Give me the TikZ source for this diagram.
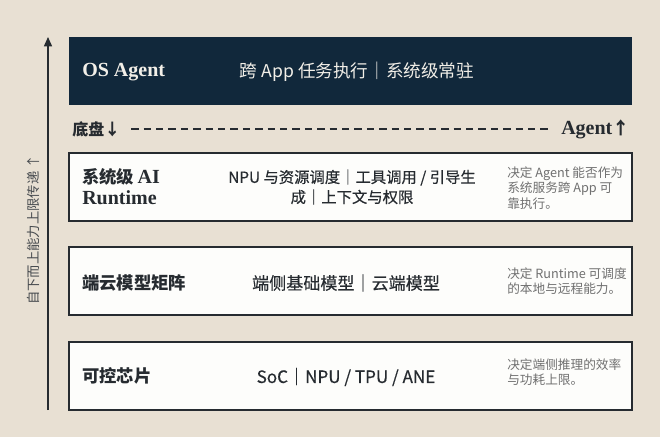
\documentclass[tikz,border=0pt]{standalone}
\usepackage{fontspec}
\setmainfont{Liberation Serif}
\newfontfamily\cjk{Noto Sans CJK SC}
\newfontfamily\cjkmid{Noto Sans CJK SC}[FakeBold=0.4]
\usetikzlibrary{arrows.meta}
\definecolor{bg}{HTML}{E8E0D3}
\definecolor{navy}{HTML}{11283B}
\definecolor{ink}{HTML}{262B30}
\definecolor{note}{HTML}{707070}
\definecolor{boxfill}{HTML}{FDFDFB}
\definecolor{toptext}{HTML}{F2EFE8}
\begin{document}
\begin{tikzpicture}[x=0.75pt,y=-0.75pt,
  layerbox/.style={draw=ink,line width=1.5pt,fill=boxfill},
  titletext/.style={anchor=west,inner sep=0pt,text=ink,font=\fontsize{15}{16}\selectfont,align=left},
  cjktitle/.style={titletext,font=\cjk\bfseries\fontsize{13}{16}\selectfont},
  midtext/.style={inner sep=0pt,text=ink,font=\cjkmid\fontsize{12.8}{15}\selectfont,align=center},
  notetext/.style={anchor=west,inner sep=0pt,text=note,font=\cjk\fontsize{9.5}{11.5}\selectfont,align=left}]
\fill[bg] (0,0) rectangle (660,437);
\useasboundingbox (0,0) rectangle (660,437);
% top dark box
\node[fill=navy,inner sep=0pt,anchor=north west,
  minimum width=422.25pt,minimum height=51pt] (top) at (69,37) {};
\node[titletext,text=toptext] (osagent) at (82,72) {\bfseries OS Agent};
\node[midtext,text=toptext,font=\cjk\fontsize{13.2}{15}\selectfont] (topmid) at (357,72) {跨 App 任务执行｜系统级常驻};
% dashed divider
\node[cjktitle,font=\cjk\bfseries\fontsize{12}{14}\selectfont] (dipan) at (72,129) {底盘↓};
\node[titletext,anchor=east] (agentup) at (630,129) {\bfseries Agent{\cjk\fontsize{13}{14}\selectfont↑}};
\draw[ink,line width=1.1pt,dash pattern=on 5.5pt off 3.8pt] ([xshift=8pt]dipan.east) -- ([xshift=-8pt]agentup.west);
% layers
\draw[layerbox] (69,153) rectangle (632,221);
\node[titletext] (t1a) at (82,177) {{\cjk\bfseries\fontsize{13}{16}\selectfont 系统级}\,\bfseries AI};
\node[titletext] (t1b) at (82,198) {\bfseries Runtime};
\node[midtext,font=\cjkmid\fontsize{11.5}{15}\selectfont] (m1) at (352,187) {NPU 与资源调度｜工具调用 / 引导生\\成｜上下文与权限};
\node[notetext] (n1) at (507,188) {决定 Agent 能否作为\\系统服务跨 App 可\\靠执行。};
\draw[layerbox] (69,247) rectangle (632,315);
\node[cjktitle] (t2) at (82,283) {端云模型矩阵};
\node[midtext] (m2) at (346,283) {端侧基础模型｜云端模型};
\node[notetext] (n2) at (507,281) {决定 Runtime 可调度\\的本地与远程能力。};
\draw[layerbox] (69,342) rectangle (632,410);
\node[cjktitle] (t3) at (82,376) {可控芯片};
\node[midtext] (m3) at (346,377) {SoC｜NPU / TPU / ANE};
\node[notetext] (n3) at (507,372) {决定端侧推理的效率\\与功耗上限。};
% axis arrow
\coordinate (abot) at (48,410);
\coordinate (atop) at (48,37);
\draw[ink,line width=1.1pt,-{Triangle[length=7pt,width=6pt]}] (abot) -- (atop);
\node[rotate=90,inner sep=0pt,text=ink!85,font=\cjk\fontsize{10}{12}\selectfont] (axlabel) at (33,230) {自下而上能力上限传递 ↑};
\end{tikzpicture}
\end{document}
